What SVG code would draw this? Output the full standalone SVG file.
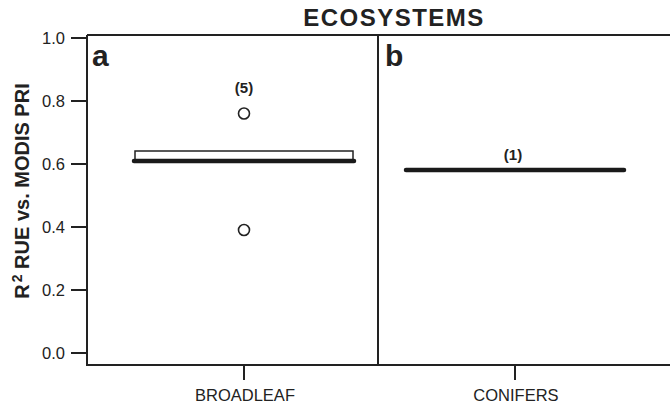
<svg xmlns="http://www.w3.org/2000/svg" width="670" height="407" viewBox="0 0 670 407">
<style>
text{font-family:"Liberation Sans",Arial,sans-serif;fill:#222}
.b{font-weight:bold}
.tick{font-size:16.5px;text-anchor:end}
.cat{font-size:16.5px;text-anchor:middle}
.ax{stroke:#222;stroke-width:2;fill:none}
.med{stroke:#1a1a1a;stroke-width:4.5;stroke-linecap:round}
.pt{fill:#fff;stroke:#222;stroke-width:1.6}
</style>
<rect width="670" height="407" fill="#fff"/>
<text class="b" x="394" y="26" font-size="24" text-anchor="middle" letter-spacing="1.5">ECOSYSTEMS</text>
<g id="axes">
<path class="ax" d="M87,35 H670 M87,35 V365 M86,365 H670 M378,35 V365"/>
<path class="ax" d="M71,38 H87 M71,101 H87 M71,164 H87 M71,227 H87 M71,290 H87 M71,353 H87"/>
<path class="ax" d="M244,365 V380 M515,365 V380"/>
<text class="tick" x="65" y="44">1.0</text>
<text class="tick" x="65" y="107">0.8</text>
<text class="tick" x="65" y="170">0.6</text>
<text class="tick" x="65" y="233">0.4</text>
<text class="tick" x="65" y="296">0.2</text>
<text class="tick" x="65" y="359">0.0</text>
<text class="cat" x="245" y="401">BROADLEAF</text>
<text class="cat" x="516" y="401">CONIFERS</text>
<text class="b" font-size="20" text-anchor="middle" transform="rotate(-90 29 191)" x="29" y="191">R<tspan font-size="14" dx="2" dy="-7">2</tspan><tspan dy="7"> RUE vs. MODIS PRI</tspan></text>
</g>
<g id="panel-a">
<text class="b" x="92" y="66" font-size="30">a</text>
<rect x="135" y="151" width="218" height="9" fill="#fff" stroke="#222" stroke-width="1.5"/>
<line class="med" x1="134" y1="161" x2="354" y2="161"/>
<circle class="pt" cx="244" cy="113.5" r="5.5"/>
<circle class="pt" cx="244" cy="230" r="5.5"/>
<text class="b" x="244" y="93" font-size="15" text-anchor="middle">(5)</text>
</g>
<g id="panel-b">
<text class="b" x="385" y="66" font-size="30">b</text>
<line class="med" x1="406" y1="170" x2="624" y2="170"/>
<text class="b" x="513" y="160" font-size="15" text-anchor="middle">(1)</text>
</g>
</svg>
